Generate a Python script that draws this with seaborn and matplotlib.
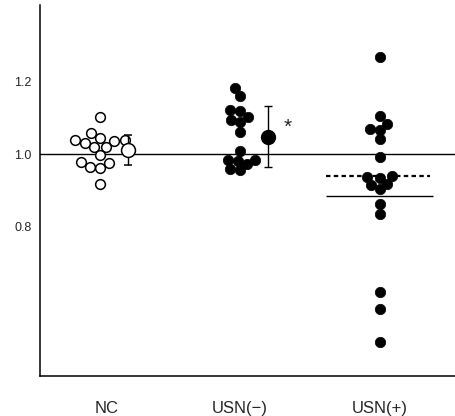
import matplotlib
matplotlib.use('Agg')
import matplotlib.pyplot as plt
import numpy as np
import pandas as pd
import seaborn as sns

# values
groups = ['NC', 'USN(\u2212)', 'USN(+)']
nc = [1.101, 1.058, 1.036, 1.038, 1.044, 1.038, 1.019, 1.019, 0.997,
      0.975, 0.978, 0.964, 0.962, 0.918, 1.030]
usn_neg = [1.181, 1.159, 1.121, 1.118, 1.101, 1.093, 1.088, 1.060, 1.008,
           0.984, 0.984, 0.981, 0.973, 0.959, 0.956]
usn_pos = [1.268, 1.104, 1.082, 1.066, 1.068, 1.041, 0.992, 0.940, 0.937,
           0.934, 0.918, 0.915, 0.904, 0.863, 0.836, 0.622, 0.575, 0.485]

# mean +/- SD markers beside NC and USN(-)
mean_vals = [1.011, 1.047]
err_low = [0.970, 0.964]
err_high = [1.052, 1.132]

# USN(+) summary lines
usn_pos_dotted = 0.940
usn_pos_solid = 0.885

df = pd.DataFrame({
    'group': [groups[0]] * len(nc) + [groups[1]] * len(usn_neg) + [groups[2]] * len(usn_pos),
    'ratio': nc + usn_neg + usn_pos,
})

sns.set_style('white')
plt.rcParams['font.family'] = ['Liberation Sans', 'DejaVu Sans']

fig = plt.figure(figsize=(4.55, 4.16), dpi=100)
ax = fig.add_axes([0.088, 0.096, 0.912, 0.892])

ax.axhline(1.0, color='black', lw=1.0, zorder=1)

# swarm laid out with smaller markers so the dots overlap like in the original
sns.swarmplot(data=df[df.group == groups[0]], x='group', y='ratio', order=groups,
              color='white', edgecolor='black', linewidth=1.1, size=6, ax=ax, zorder=3)
sns.swarmplot(data=df[df.group != groups[0]], x='group', y='ratio', order=groups,
              color='black', edgecolor='black', linewidth=0.5, size=6, ax=ax, zorder=3)

ax.set_xlim(-0.43, 2.54)
ax.set_ylim(0.39, 1.41)
fig.canvas.draw()
# freeze the swarm positions, then enlarge the dots
swarm_colls = list(ax.collections)
for i, coll in enumerate(swarm_colls):
    if 'draw' in coll.__dict__:
        del coll.draw
    coll.set_sizes([7.0 ** 2 if i == 0 else 7.5 ** 2])

# mean markers with error bars
xm = np.arange(2) + 0.2
yerr = [np.array(mean_vals) - np.array(err_low), np.array(err_high) - np.array(mean_vals)]
ax.errorbar(xm[:1], mean_vals[:1], yerr=[yerr[0][:1], yerr[1][:1]], fmt='o', ms=10,
            mfc='white', mec='black', mew=1.1, ecolor='black', elinewidth=1, capsize=3, zorder=4)
ax.errorbar(xm[1:], mean_vals[1:], yerr=[yerr[0][1:], yerr[1][1:]], fmt='o', ms=10,
            mfc='black', mec='black', ecolor='black', elinewidth=1, capsize=3, zorder=4)
ax.text(1.34, 1.074, '*', fontsize=15, ha='center', va='center')

ax.hlines(usn_pos_dotted, 1.62, 2.36, colors='black', linestyles=(0, (2, 1.5)), lw=1.6)
ax.hlines(usn_pos_solid, 1.62, 2.38, colors='black', lw=1.0)

ax.set_yticks([0.8, 1.0, 1.2])
ax.set_yticklabels(['0.8', '1.0', '1.2'], fontsize=9)
ax.set_xticks([0.05, 1.0, 2.0])
ax.set_xticklabels(groups, fontsize=12)
ax.tick_params(axis='both', length=0)
ax.tick_params(axis='x', pad=18)
ax.tick_params(axis='y', pad=6)
ax.set_xlabel('')
ax.set_ylabel('')
for s in ['top', 'right']:
    ax.spines[s].set_visible(False)
for s in ['left', 'bottom']:
    ax.spines[s].set_color('black')
    ax.spines[s].set_linewidth(1.1)

fig.savefig('out.png', dpi=100)
